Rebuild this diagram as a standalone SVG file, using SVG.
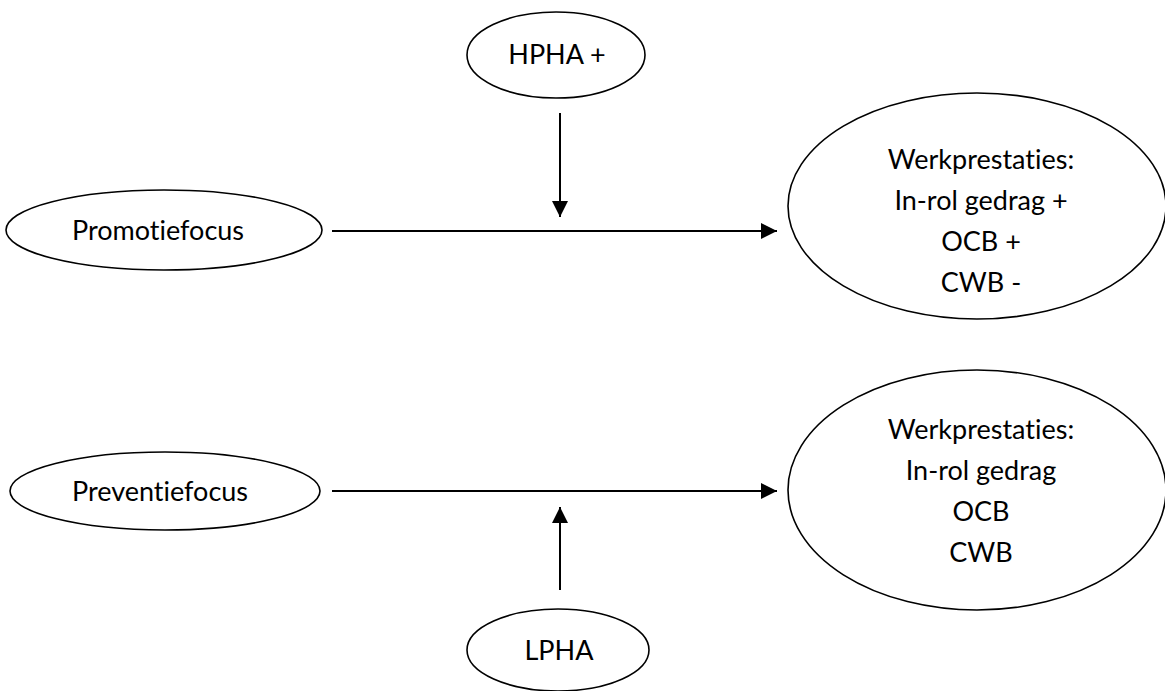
<svg xmlns="http://www.w3.org/2000/svg" width="1165" height="691" viewBox="0 0 1165 691">
<style>
.node ellipse{fill:#fff;stroke:#000;stroke-width:1.6}
text{font-family:Lato,"Open Sans","Liberation Sans",sans-serif;font-size:27px;fill:#000;text-anchor:middle;font-variant-ligatures:none;font-feature-settings:"liga" 0}
.conn line{stroke:#000;stroke-width:2}
</style>
<defs>
<marker id="ah" viewBox="0 0 16 16" refX="16" refY="8" markerWidth="16" markerHeight="16" markerUnits="userSpaceOnUse" orient="auto">
<path d="M0,0 L16,8 L0,16 Z" fill="#000"/>
</marker>
</defs>
<rect width="1165" height="691" fill="#fff"/>
<g id="hpha" class="node"><ellipse cx="556" cy="55" rx="89" ry="43"/><text x="557" y="64">HPHA +</text></g>
<g id="promotie" class="node"><ellipse cx="164" cy="230" rx="158" ry="40"/><text x="158" y="240">Promotiefocus</text></g>
<g id="werk1" class="node"><ellipse cx="977" cy="206" rx="189" ry="113"/>
<text x="981" y="169">Werkprestaties:</text><text x="981" y="210">In-rol gedrag +</text><text x="981" y="251">OCB +</text><text x="981" y="292">CWB -</text></g>
<g id="preventie" class="node"><ellipse cx="165" cy="491" rx="155" ry="39"/><text x="160" y="501">Preventiefocus</text></g>
<g id="werk2" class="node"><ellipse cx="977" cy="490" rx="189" ry="120"/>
<text x="981" y="439">Werkprestaties:</text><text x="981" y="480">In-rol gedrag</text><text x="981" y="521">OCB</text><text x="981" y="562">CWB</text></g>
<g id="lpha" class="node"><ellipse cx="558" cy="650" rx="91" ry="41"/><text x="559" y="660">LPHA</text></g>
<g id="connectors" class="conn">
<line x1="332" y1="231" x2="777" y2="231" marker-end="url(#ah)"/>
<line x1="560" y1="113" x2="560" y2="217" marker-end="url(#ah)"/>
<line x1="332" y1="491" x2="777" y2="491" marker-end="url(#ah)"/>
<line x1="560" y1="590" x2="560" y2="507" marker-end="url(#ah)"/>
</g>
</svg>
